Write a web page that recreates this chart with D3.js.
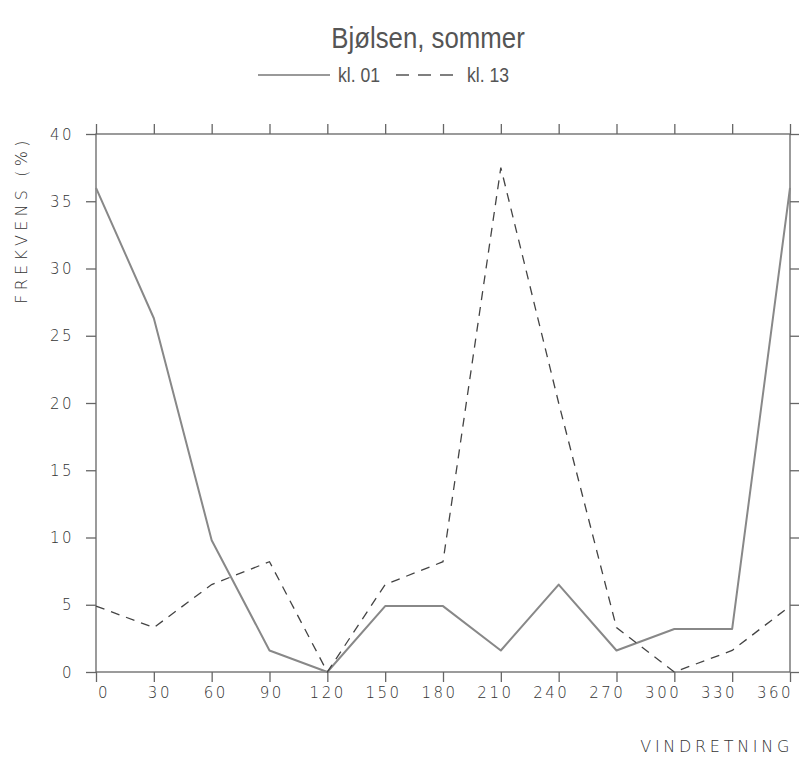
<!DOCTYPE html>
<html><head><meta charset="utf-8">
<script src="https://cdn.jsdelivr.net/npm/d3@7"></script>
<style>
body{margin:0;background:#fff;}
svg{display:block;}
.tick-lbl{font-family:"DejaVu Sans",sans-serif;font-weight:200;fill:#333;}
</style></head><body>
<svg id="chart" width="809" height="758"></svg>
<script>
const title = "Bjølsen, sommer";
const seriesNames = ["kl. 01", "kl. 13"];
const directions = [0, 30, 60, 90, 120, 150, 180, 210, 240, 270, 300, 330, 360];
const kl01 = [36, 26.3, 9.8, 1.6, 0, 4.9, 4.9, 1.6, 6.5, 1.6, 3.2, 3.2, 36];
const kl13 = [4.9, 3.3, 6.5, 8.2, 0, 6.5, 8.2, 37.5, 20, 3.3, 0, 1.6, 4.9];
const yTicks = [0, 5, 10, 15, 20, 25, 30, 35, 40];
const xLabel = "VINDRETNING";
const yLabel = "FREKVENS (%)";

const svg = d3.select("#chart");
const L = 96, R = 790, T = 134, B = 672;
const x = d3.scaleLinear().domain([0, 360]).range([L, R]);
const xl = d3.scaleLinear().domain([0, 360]).range([104, 775]);
const y = d3.scaleLinear().domain([0, 40]).range([B, T]);
const axisCol = "#666";

// title (condensed)
svg.append("text").attr("transform", "translate(428,48) scale(0.86,1)").attr("text-anchor", "middle")
  .style("font-family", "'Liberation Sans',sans-serif")
  .style("font-size", "30px").style("fill", "#555").text(title);

// legend
const lg = svg.append("g").style("font-family", "'Liberation Sans',sans-serif")
  .style("font-size", "20px").style("fill", "#555");
lg.append("line").attr("x1", 258).attr("x2", 330).attr("y1", 75).attr("y2", 75)
  .attr("stroke", "#777").attr("stroke-width", 1.5);
lg.append("text").attr("transform", "translate(338,82) scale(0.88,1)").text(seriesNames[0]);
lg.append("line").attr("x1", 396).attr("x2", 454).attr("y1", 75).attr("y2", 75)
  .attr("stroke", "#555").attr("stroke-width", 1.6).attr("stroke-dasharray", "13,9");
lg.append("text").attr("transform", "translate(467,82) scale(0.88,1)").text(seriesNames[1]);

// axes
const gA = svg.append("g");
const axB = d3.axisBottom(x).tickValues(directions).tickSize(10).tickFormat("");
const axT = d3.axisTop(x).tickValues(directions).tickSize(10).tickFormat("");
const axL = d3.axisLeft(y).tickValues(yTicks).tickSize(10).tickFormat("");
const axR = d3.axisRight(y).tickValues(yTicks).tickSize(9).tickFormat("");
gA.append("g").attr("transform", `translate(0,${B})`).call(axB);
gA.append("g").attr("transform", `translate(0,${T})`).call(axT);
gA.append("g").attr("transform", `translate(${L},0)`).call(axL);
gA.append("g").attr("transform", `translate(${R},0)`).call(axR);
gA.selectAll(".domain").remove();
gA.selectAll(".tick line").attr("stroke", axisCol).attr("stroke-width", 1.3);
svg.append("rect").attr("x", L).attr("y", T).attr("width", R - L).attr("height", B - T)
  .attr("fill", "none").attr("stroke", axisCol).attr("stroke-width", 1.3);

// tick labels
svg.append("g").selectAll("text").data(yTicks).join("text").attr("class", "tick-lbl")
  .attr("x", 74).attr("y", d => y(d) + 5.5).attr("text-anchor", "end")
  .style("font-size", "15px").style("letter-spacing", "2.5px").text(d => d);
svg.append("g").selectAll("text").data(directions).join("text").attr("class", "tick-lbl")
  .attr("x", d => xl(d)).attr("y", 698).attr("text-anchor", "middle")
  .style("font-size", "15px").style("letter-spacing", "2.5px").text(d => d);

svg.append("text").attr("class", "tick-lbl").attr("x", 793).attr("y", 752).attr("text-anchor", "end")
  .style("font-size", "16px").style("letter-spacing", "3.7px").text(xLabel);
svg.append("text").attr("class", "tick-lbl")
  .attr("transform", "translate(27,220) rotate(-90)").attr("text-anchor", "middle")
  .style("font-size", "16px").style("letter-spacing", "4.2px").text(yLabel);

// lines
const line = d3.line().x((d, i) => x(directions[i])).y(d => y(d));
svg.append("path").datum(kl01).attr("d", line).attr("fill", "none")
  .attr("stroke", "#888").attr("stroke-width", 2).attr("stroke-linejoin", "round");
svg.append("path").datum(kl13).attr("d", line).attr("fill", "none")
  .attr("stroke", "#444").attr("stroke-width", 1.3).attr("stroke-dasharray", "9,7");
</script></body></html>
